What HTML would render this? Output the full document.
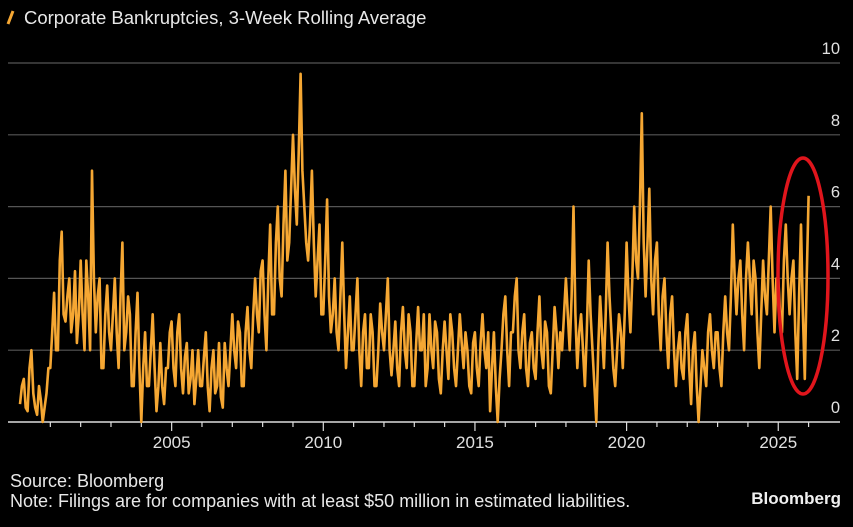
<!DOCTYPE html>
<html><head><meta charset="utf-8"><style>
body{margin:0;background:#000;width:853px;height:522px;overflow:hidden;font-family:"Liberation Sans",sans-serif}
</style></head><body>
<svg width="853" height="522" id="chart">
<rect width="853" height="522" fill="#000"/>
<line x1="13" y1="11" x2="8" y2="24" stroke="#f5a733" stroke-width="3"/>
<text x="24" y="24" fill="#e8e8e8" font-size="18.5">Corporate Bankruptcies, 3-Week Rolling Average</text>
<g id="grid"></g><g id="series"></g>
<ellipse cx="803" cy="276" rx="25" ry="118" fill="none" stroke="#e0151c" stroke-width="3.5"/>
<text x="10" y="487" fill="#e8e8e8" font-size="18">Source: Bloomberg</text>
<text x="10" y="507" fill="#e8e8e8" font-size="18">Note: Filings are for companies with at least $50 million in estimated liabilities.</text>
<text x="841" y="504" fill="#f0f0f0" font-size="17" font-weight="bold" text-anchor="end">Bloomberg</text>
</svg>
<script>
const startYear = 2000;
const pointsPerYear = 16;
const values = [
0.5,1.0,1.2,0.4,0.3,1.5,2.0,0.8,0.4,0.2,1.0,0.6,0,0.4,0.8,1.5,
1.5,2.5,3.6,2.0,2.0,4.5,5.3,3.0,2.8,3.5,4.0,2.5,3.0,4.2,2.2,3.0,
4.5,3.0,2.0,4.5,3.5,2.0,7.0,4.0,2.5,3.5,4.0,1.5,1.5,3.0,3.8,2.5,
2.0,3.0,4.0,2.5,1.5,3.5,5.0,2.0,2.5,3.5,3.0,1.0,1.0,2.5,3.6,1.5,
0,1.5,2.5,1.0,1.0,2.0,3.0,1.5,0.3,1.0,2.2,1.0,0.5,1.5,1.5,2.5,
2.8,1.5,1.0,2.5,3.0,1.5,0.8,1.8,2.2,0.8,1.2,2.0,0.5,1.2,2.0,1.0,
1.0,1.8,2.5,1.0,0.3,1.5,2.0,0.8,1.0,2.2,0.7,0.4,2.2,1.5,1.0,2.0,
3.0,2.0,1.5,2.8,2.5,1.0,1.0,2.5,3.2,2.0,1.5,3.0,4.0,3.0,2.5,4.2,
4.5,3.0,2.0,4.0,5.5,3.0,3.0,5.0,6.0,4.0,3.5,5.5,7.0,4.5,5.0,6.5,
8.0,6.5,5.5,7.5,9.7,7.0,6.0,5.0,4.5,5.5,7.0,5.0,3.5,4.5,5.5,3.0,
3.0,4.5,6.2,3.5,2.5,3.0,4.0,2.5,2.0,3.5,5.0,3.0,1.5,2.5,3.5,2.0,
2.0,3.0,4.0,2.0,1.0,2.5,3.0,1.5,1.5,3.0,2.5,1.0,1.0,2.0,3.3,2.5,
2.0,3.0,4.0,2.0,1.3,2.0,2.8,1.5,1.0,2.5,3.2,2.0,1.5,3.0,2.5,1.0,
1.0,2.2,3.2,2.0,2.0,3.0,1.0,1.5,3.0,2.0,1.5,2.8,2.5,1.2,0.8,2.0,
2.8,2.0,1.2,3.0,2.5,1.5,1.0,2.0,3.0,2.2,1.5,2.5,2.0,1.0,0.8,2.2,
2.5,1.5,1.0,2.2,3.0,2.0,1.5,2.5,0.3,1.5,2.5,1.0,0,1.2,2.0,3.0,
3.5,2.0,1.0,2.5,2.5,3.5,4.0,2.0,1.5,2.5,3.0,1.5,1.0,2.2,2.5,1.5,
1.2,2.5,3.5,2.0,1.5,2.8,2.5,1.0,0.8,2.0,3.2,2.5,1.5,2.5,2.0,3.0,
4.0,3.0,2.0,3.5,6.0,3.0,1.5,2.5,3.0,2.0,1.0,2.5,4.5,3.0,2.0,1.0,
0,2.0,3.5,2.5,1.5,3.0,5.0,3.5,2.5,1.5,1.0,2.0,3.0,2.5,1.5,3.0,
5.0,3.5,2.5,4.0,6.0,4.5,4.0,6.0,8.6,5.0,3.5,5.0,6.5,4.0,3.0,4.5,
5.0,3.0,2.0,3.5,4.0,2.5,1.5,3.0,3.5,2.0,1.0,2.0,2.5,1.5,1.2,2.5,
3.0,1.5,0.5,2.0,2.5,1.0,0,1.0,2.0,1.5,1.0,2.5,3.0,2.0,1.5,2.5,
2.5,1.5,1.0,2.5,3.5,2.5,2.0,3.5,5.5,4.0,3.0,4.0,4.5,3.0,2.0,4.0,
5.0,4.0,3.0,4.5,4.0,2.5,1.5,3.0,4.5,3.5,3.0,4.5,6.0,4.0,2.5,4.0,
4.0,3.0,2.5,4.5,5.5,4.0,3.0,4.0,4.5,2.5,1.2,3.5,5.5,3.0,1.2,4.0,
6.3];
const yTicks = [0,2,4,6,8,10];
const xTickLabels = [2005,2010,2015,2020,2025];
const minorYears = [2001,2002,2003,2004,2005,2006,2007,2008,2009,2010,2011,2012,2013,2014,2015,2016,2017,2018,2019,2020,2021,2022,2023,2024,2025,2026];

const NS="http://www.w3.org/2000/svg";
function xScale(yr){return 20+(yr-2000)*30.33;}
function yScale(v){return 422-v*35.9;}
function mk(tag,attrs,parent){const e=document.createElementNS(NS,tag);for(const k in attrs)e.setAttribute(k,attrs[k]);parent.appendChild(e);return e;}
const grid=document.getElementById('grid');
yTicks.forEach(t=>{
  if(t>0){const l=mk('line',{x1:8,x2:840,y1:yScale(t),y2:yScale(t),stroke:'#555','stroke-width':1.2},grid);
  
  }
  const tx=mk('text',{x:840,y:yScale(t)-9,fill:'#e0e0e0','font-size':16.5,'text-anchor':'end'},grid);
  tx.textContent=t;
  
  
});
const ax=mk('line',{x1:8,x2:840,y1:422,y2:422,stroke:'#ddd','stroke-width':1.5},grid);


minorYears.forEach(y=>{
  const big=xTickLabels.includes(y);
  const l=mk('line',{x1:xScale(y),x2:xScale(y),y1:422,y2:big?431:427,stroke:'#ddd','stroke-width':1.2},grid);
  
  
});
xTickLabels.forEach(y=>{
  const tx=mk('text',{x:xScale(y),y:448,fill:'#e0e0e0','font-size':17,'text-anchor':'middle'},grid);
  tx.textContent=y;
  
  
});
const d=values.map((v,i)=>(i?'L':'M')+xScale(startYear+i/pointsPerYear).toFixed(1)+','+yScale(v).toFixed(1)).join(' ');
const p=mk('path',{d:d,fill:'none',stroke:'#f5a733','stroke-width':2.6,'stroke-linejoin':'round'},document.getElementById('series'));


</script>
</body></html>
